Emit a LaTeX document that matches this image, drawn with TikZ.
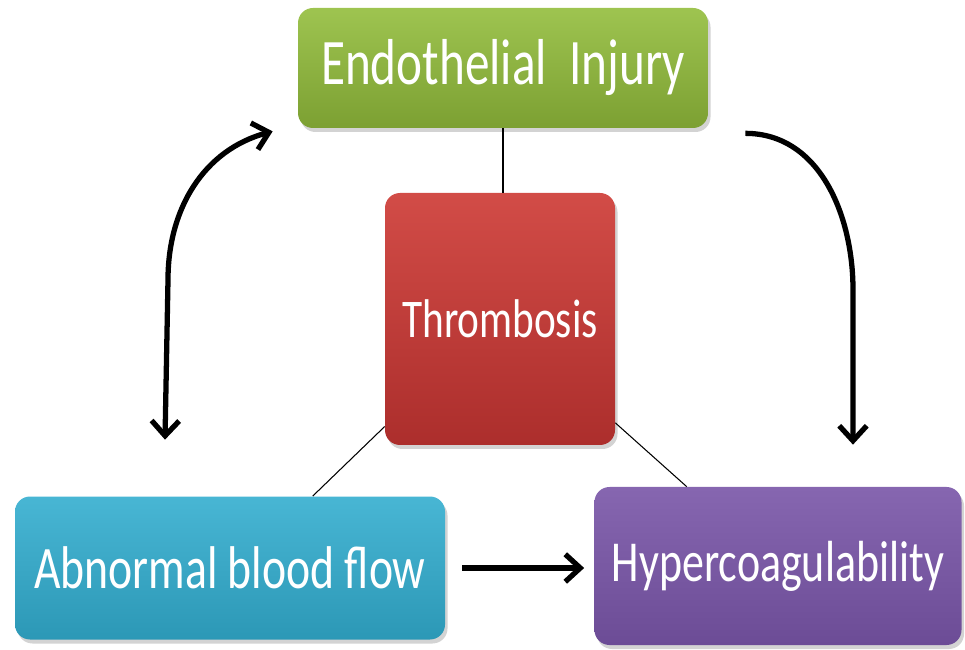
\documentclass[tikz,border=0pt]{standalone}
\usepackage{fontspec}
\usepackage{graphicx}
\setmainfont{Carlito}
\usetikzlibrary{arrows.meta,shadows}

\newcommand{\tallText}[2]{\fontsize{#1}{#1}\selectfont\scalebox{1}[1.32]{#2}}

\begin{document}
\begin{tikzpicture}[
    every node/.style={text=white},
    box/.style={rounded corners=0.3cm, draw=none,
        drop shadow={opacity=0.35, shadow xshift=0.05cm, shadow yshift=-0.08cm}},
    arr/.style={line width=3pt, black, -{Straight Barb[length=0.3cm, width=0.55cm]}},
    link/.style={black, line width=0.6pt}
]
    \useasboundingbox (0,0) rectangle (19.3,12.98);

    % Kasten
    \node[box, top color={rgb,255:red,158;green,196;blue,80}, bottom color={rgb,255:red,124;green,160;blue,50},
        minimum width=8.2cm, minimum height=2.4cm] (ei) at (10.06,11.62) {\tallText{28}{Endothelial\ \ Injury}};
    \node[box, top color={rgb,255:red,210;green,76;blue,71}, bottom color={rgb,255:red,172;green,46;blue,44},
        minimum width=4.6cm, minimum height=5.04cm] (thr) at (10.0,6.6) {\tallText{23.5}{Thrombosis}};
    \node[box, top color={rgb,255:red,72;green,182;blue,212}, bottom color={rgb,255:red,44;green,152;blue,182},
        minimum width=8.6cm, minimum height=2.86cm] (abn) at (4.6,1.62) {\tallText{26}{Abnormal blood flow}};
    \node[box, top color={rgb,255:red,134;green,102;blue,176}, bottom color={rgb,255:red,108;green,76;blue,150},
        minimum width=7.34cm, minimum height=3.16cm] (hyp) at (15.56,1.66) {\tallText{25}{Hypercoagulability}};

    % Verbindungen zur Mitte
    \draw[link] (ei.south) -- (ei.south |- thr.north);
    \draw[link] (thr.-137) -- (abn.41);
    \draw[link] (thr.-42) -- (hyp.139);

    % Pfeile
    \draw[arr, {Straight Barb[length=0.3cm, width=0.55cm]}-{Straight Barb[length=0.3cm, width=0.55cm]}]
        ([shift={(-1.3,1.13)}]abn.north) -- ++(0.06,3.2) to[out=90,in=195] ([shift={(-0.5,-0.06)}]ei.south west);
    \draw[arr] ([shift={(0.74,-0.1)}]ei.south east) to[out=0,in=90] ([shift={(1.5,3.94)}]hyp.north) -- ([shift={(1.5,0.84)}]hyp.north);
    \draw[arr, shorten <=0.34cm, shorten >=0.2cm] (abn.east) -- (abn.east -| hyp.west);
\end{tikzpicture}
\end{document}
